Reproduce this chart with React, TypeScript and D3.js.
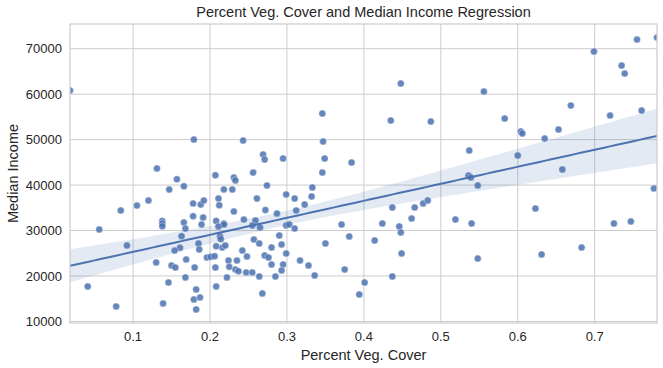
import React from "react";
import * as d3 from "d3";

// values
const vegCover = [
  0.018, 0.179, 0.131, 0.157, 0.207, 0.166, 0.147, 0.105, 0.12, 0.084,
  0.178, 0.188, 0.192, 0.211, 0.212, 0.178, 0.191, 0.138, 0.138, 0.138,
  0.166, 0.189, 0.168, 0.056, 0.208, 0.218, 0.218, 0.211, 0.163, 0.213,
  0.214, 0.092, 0.185, 0.186, 0.161, 0.154, 0.216, 0.22, 0.208, 0.196,
  0.201, 0.206, 0.169, 0.13, 0.15, 0.155, 0.18, 0.207, 0.224, 0.225,
  0.222, 0.168, 0.146, 0.041, 0.208, 0.182, 0.179, 0.187, 0.139, 0.078,
  0.182, 0.231, 0.233, 0.229, 0.218, 0.231, 0.233, 0.235, 0.237, 0.243,
  0.347, 0.269, 0.271, 0.295, 0.349, 0.384, 0.256, 0.346, 0.274, 0.333,
  0.299, 0.332, 0.31, 0.261, 0.323, 0.312, 0.272, 0.287, 0.244, 0.259,
  0.255, 0.265, 0.299, 0.303, 0.31, 0.371, 0.381, 0.257, 0.29, 0.264,
  0.242, 0.248, 0.28, 0.293, 0.299, 0.271, 0.276, 0.28, 0.295, 0.293,
  0.285, 0.264, 0.247, 0.255, 0.268, 0.317, 0.328, 0.336, 0.35, 0.375,
  0.536, 0.539, 0.548, 0.437, 0.466, 0.477, 0.483, 0.424, 0.446, 0.448,
  0.462, 0.519, 0.54, 0.414, 0.449, 0.548, 0.437, 0.401, 0.394, 0.448,
  0.346, 0.435, 0.487, 0.556, 0.699, 0.755, 0.781, 0.735, 0.739, 0.583,
  0.669, 0.72, 0.761, 0.604, 0.606, 0.653, 0.635, 0.537, 0.6, 0.658,
  0.623, 0.725, 0.747, 0.777, 0.631, 0.683,
];

const medianIncome = [
  60800, 50000, 43650, 41290, 42170, 39750, 39030, 35510, 36610, 34410,
  35950, 35730, 36610, 37050, 35570, 33160, 32870, 32120, 31550, 30950,
  31770, 31330, 30450, 30230, 32120, 31550, 31330, 30890, 28760, 28760,
  28100, 26710, 27150, 25830, 26190, 25610, 26270, 26710, 26560, 24070,
  24210, 24360, 23630, 22970, 22310, 21870, 21870, 21870, 23410, 22010,
  19680, 19680, 18580, 17700, 17700, 17040, 14840, 15280, 13960, 13300,
  12640, 41670, 41010, 39030, 39030, 34190, 21430, 23410, 21060, 49800,
  49580, 46720, 45620, 45840, 45840, 44960, 42760, 42760, 39910, 39470,
  37930, 37490, 37050, 37050, 35730, 34410, 34500, 33750, 32430, 32210,
  31110, 30670, 31110, 31330, 30450, 31330, 28690, 28030, 28910, 27150,
  25610, 24290, 26270, 26930, 24950, 24510, 24070, 22530, 22530, 21210,
  19900, 19900, 20780, 20780, 16160, 23410, 22310, 20120, 27150, 21430,
  42110, 41670, 39910, 35070, 35070, 35950, 36610, 31550, 30890, 29570,
  32650, 32430, 31550, 27810, 24950, 23850, 19900, 18580, 15940, 62340,
  55740, 54200, 53980, 60580, 69380, 72010, 72450, 66290, 64530, 54640,
  57500, 55300, 56400, 51780, 51340, 52220, 50240, 47600, 46500, 43420,
  34850, 31550, 32000, 39250, 24730, 26270,
];

const xTicks = [0.1, 0.2, 0.3, 0.4, 0.5, 0.6, 0.7];
const yTicks = [10000, 20000, 30000, 40000, 50000, 60000, 70000];

const W = 663;
const H = 368;
const M = { top: 24, right: 6, bottom: 45, left: 70 };
const BLUE = "#4c72b0";
const FONT = "'Liberation Sans', Arial, sans-serif";

export default function App() {
  const pts = vegCover.map((v, i) => ({ x: v, y: medianIncome[i] }));
  const [x0, x1] = d3.extent(vegCover) as [number, number];
  const [y0, y1] = d3.extent(medianIncome) as [number, number];
  const yPad = (y1 - y0) * 0.05;

  const x = d3.scaleLinear().domain([x0, x1]).range([M.left, W - M.right]);
  const y = d3.scaleLinear().domain([y0 - yPad, y1 + yPad]).range([H - M.bottom, M.top]);

  // least squares fit; band uses a robust (sandwich) variance, close to a pairs bootstrap
  const n = pts.length;
  const mx = d3.mean(vegCover)!;
  const my = d3.mean(medianIncome)!;
  const sxx = d3.sum(vegCover, (v) => (v - mx) ** 2);
  const sxy = d3.sum(pts, (p) => (p.x - mx) * (p.y - my));
  const slope = sxy / sxx;
  const icpt = my - slope * mx;
  const res = pts.map((p) => p.y - (icpt + slope * p.x));
  const hc = n / (n - 2);
  // variance of fit at gx: sum_i w_i(gx)^2 e_i^2, with w_i the OLS weights
  const band = d3.range(0, 101).map((k) => {
    const gx = x0 + ((x1 - x0) * k) / 100;
    const fit = icpt + slope * gx;
    const v = d3.sum(pts, (p, i) => (1 / n + ((gx - mx) * (p.x - mx)) / sxx) ** 2 * res[i] ** 2) * hc;
    const half = 1.976 * Math.sqrt(v);
    return { gx, fit, lo: fit - half, hi: fit + half };
  });

  const area = d3
    .area<{ gx: number; lo: number; hi: number }>()
    .x((d) => x(d.gx))
    .y0((d) => y(d.lo))
    .y1((d) => y(d.hi));
  const line = d3
    .line<{ gx: number; fit: number }>()
    .x((d) => x(d.gx))
    .y((d) => y(d.fit));

  const left = M.left;
  const right = W - M.right;
  const top = M.top;
  const bottom = H - M.bottom;

  return (
    <svg
      width={W}
      height={H}
      style={{ position: "absolute", left: 0, top: 0, background: "#fff" }}
      fontFamily={FONT}
    >
      <defs>
        <clipPath id="plot-clip">
          <rect x={left} y={top} width={right - left} height={bottom - top} />
        </clipPath>
      </defs>

      {/* grid */}
      {xTicks.map((t) => (
        <line key={"gx" + t} x1={x(t)} x2={x(t)} y1={top} y2={bottom} stroke="#cccccc" strokeWidth={1} />
      ))}
      {yTicks.map((t) => (
        <line key={"gy" + t} x1={left} x2={right} y1={y(t)} y2={y(t)} stroke="#cccccc" strokeWidth={1} />
      ))}

      <g clipPath="url(#plot-clip)">
        {pts.map((p, i) => (
          <circle
            key={i}
            cx={x(p.x)}
            cy={y(p.y)}
            r={3.5}
            fill={BLUE}
            fillOpacity={0.85}
            stroke="#fff"
            strokeWidth={0.4}
          />
        ))}
        <path d={area(band) ?? ""} fill={BLUE} fillOpacity={0.15} />
        <path d={line(band) ?? ""} fill="none" stroke={BLUE} strokeWidth={2} />
      </g>

      {/* frame */}
      <rect x={left} y={top} width={right - left} height={bottom - top} fill="none" stroke="#cccccc" strokeWidth={1.2} />

      {/* tick labels */}
      {xTicks.map((t) => (
        <text key={"tx" + t} x={x(t)} y={bottom + 18} textAnchor="middle" fontSize={13} fill="#262626">
          {d3.format("")(t)}
        </text>
      ))}
      {yTicks.map((t) => (
        <text key={"ty" + t} x={left - 8} y={y(t)} dy="0.35em" textAnchor="end" fontSize={13} fill="#262626">
          {t}
        </text>
      ))}

      <text x={(left + right) / 2} y={bottom + 37} textAnchor="middle" fontSize={14.5} fill="#262626">
        Percent Veg. Cover
      </text>
      <text
        transform={`translate(18,${(top + bottom) / 2}) rotate(-90)`}
        textAnchor="middle"
        fontSize={14.5}
        fill="#262626"
      >
        Median Income
      </text>
      <text x={(left + right) / 2} y={top - 7} textAnchor="middle" fontSize={14.5} fill="#262626">
        Percent Veg. Cover and Median Income Regression
      </text>
    </svg>
  );
}
